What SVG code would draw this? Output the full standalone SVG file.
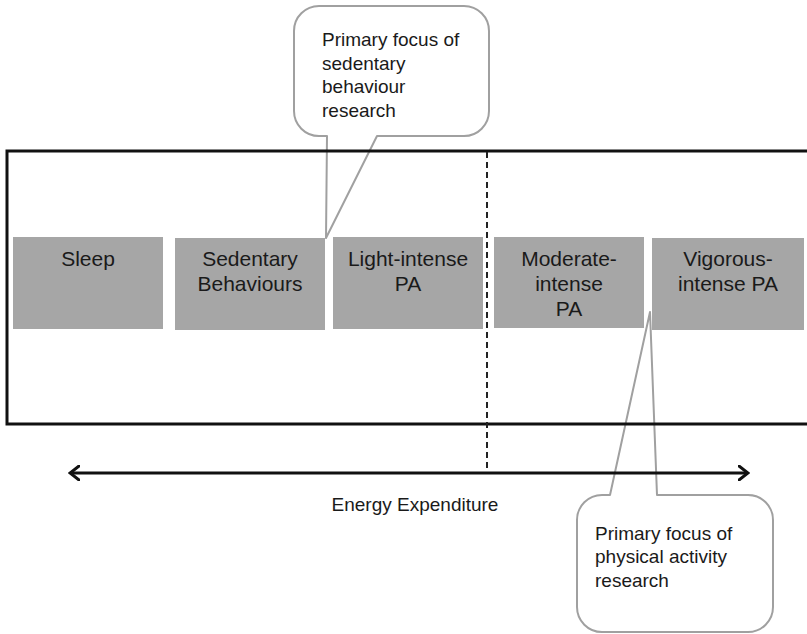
<svg xmlns="http://www.w3.org/2000/svg" width="807" height="634" viewBox="0 0 807 634">
  <defs>
    <style>
      .box { fill: #a6a6a6; }
      .lbl { font-family: "Liberation Sans", Arial, sans-serif; font-size: 21px; fill: #1a1a1a; text-anchor: middle; }
      .note { font-family: "Liberation Sans", Arial, sans-serif; font-size: 19px; fill: #1a1a1a; }
      .callout { fill: #ffffff; stroke: #a0a0a0; stroke-width: 2; stroke-linejoin: round; }
      .frame { fill: none; stroke: #111111; stroke-width: 3; }
      .axis { fill: none; stroke: #111111; stroke-width: 3; }
      .divider { fill: none; stroke: #222222; stroke-width: 2; stroke-dasharray: 6 4; }
    </style>
    <marker id="chev" viewBox="0 0 12 16" refX="10" refY="8" markerWidth="12" markerHeight="16" markerUnits="userSpaceOnUse" orient="auto-start-reverse">
      <path d="M1,1 L10,8 L1,15" fill="none" stroke="#111111" stroke-width="3" stroke-linecap="round" stroke-linejoin="miter"/>
    </marker>
  </defs>

  <rect width="807" height="634" fill="#ffffff"/>

  <g id="callout-sedentary">
    <path class="callout" d="M319,6 H464 A25,25 0 0 1 489,31 V111 A25,25 0 0 1 464,136 H377 L326,238 L327,136 H319 A25,25 0 0 1 294,111 V31 A25,25 0 0 1 319,6 Z"/>
    <text class="note" x="322" y="46">Primary focus of</text>
    <text class="note" x="322" y="70">sedentary</text>
    <text class="note" x="322" y="93">behaviour</text>
    <text class="note" x="322" y="117">research</text>
  </g>

  <g id="callout-pa">
    <path class="callout" d="M602,495 H610 L650,312 L657,495 H748 A25,25 0 0 1 773,520 V607 A25,25 0 0 1 748,632 H602 A25,25 0 0 1 577,607 V520 A25,25 0 0 1 602,495 Z"/>
    <text class="note" x="595" y="540">Primary focus of</text>
    <text class="note" x="595" y="563">physical activity</text>
    <text class="note" x="595" y="587">research</text>
  </g>

  <g id="frame">
    <rect class="frame" x="7" y="151" width="805" height="273"/>
  </g>

  <g id="sleep">
    <rect class="box" x="13" y="237" width="150" height="92"/>
    <text class="lbl" x="88" y="266">Sleep</text>
  </g>
  <g id="sedentary">
    <rect class="box" x="175" y="238" width="150" height="92"/>
    <text class="lbl" x="250" y="266">Sedentary</text>
    <text class="lbl" x="250" y="291">Behaviours</text>
  </g>
  <g id="light">
    <rect class="box" x="333" y="237" width="150" height="92"/>
    <text class="lbl" x="408" y="266">Light-intense</text>
    <text class="lbl" x="408" y="291">PA</text>
  </g>
  <g id="moderate">
    <rect class="box" x="494" y="237" width="150" height="91"/>
    <text class="lbl" x="569" y="266">Moderate-</text>
    <text class="lbl" x="569" y="291">intense</text>
    <text class="lbl" x="569" y="316">PA</text>
  </g>
  <g id="vigorous">
    <rect class="box" x="652" y="238" width="152" height="92"/>
    <text class="lbl" x="728" y="266">Vigorous-</text>
    <text class="lbl" x="728" y="291">intense PA</text>
  </g>

  <g id="connectors">
    <line class="divider" x1="487" y1="152" x2="487" y2="472"/>
    <line class="axis" x1="70" y1="473" x2="748" y2="473" marker-start="url(#chev)" marker-end="url(#chev)"/>
  </g>

  <g id="axis-label">
    <text class="note" x="415" y="511" text-anchor="middle">Energy Expenditure</text>
  </g>
</svg>
